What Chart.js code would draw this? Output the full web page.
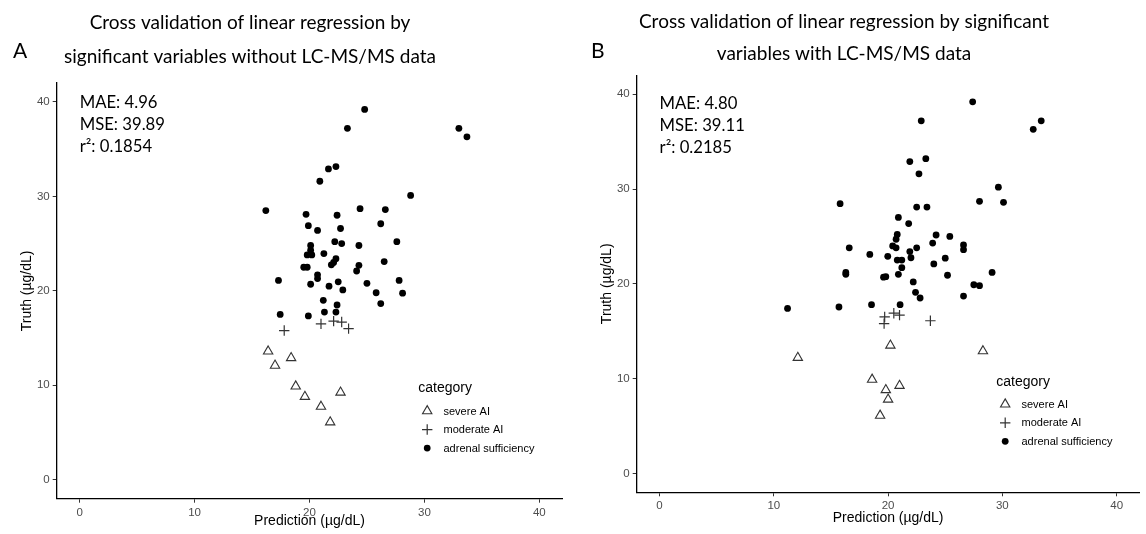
<!DOCTYPE html>
<html>
<head>
<meta charset="utf-8">
<script src="https://cdn.jsdelivr.net/npm/chart.js@4.4.0/dist/chart.umd.min.js"></script>
<style>
  body { margin: 0; background: #fff; width: 1146px; height: 534px; overflow: hidden; position: relative; }
  .panel { position: absolute; top: 0; width: 573px; height: 534px; }
</style>
</head>
<body>
<div class="panel" style="left:0"><canvas id="chartA" width="573" height="534"></canvas></div>
<div class="panel" style="left:573px"><canvas id="chartB" width="573" height="534"></canvas></div>
<script>
// categories and ticks
const categories = ['severe AI', 'moderate AI', 'adrenal sufficiency'];
const xTicks = [0, 10, 20, 30, 40];
const yTicks = [0, 10, 20, 30, 40];

// Panel A: prediction (x) vs truth (y), without LC-MS/MS
const severeA = [[16.4, 13.6], [17.0, 12.1], [18.4, 12.9], [18.8, 9.9], [19.6, 8.8], [21.0, 7.75], [22.7, 9.25], [21.8, 6.1]];
const moderateA = [[17.8, 15.8], [21.0, 16.5], [22.1, 16.8], [22.8, 16.7], [23.4, 16.0]];
const adrenalA = [
    [24.8, 39.2], [23.3, 37.2], [33.0, 37.2], [33.7, 36.3], [21.65, 32.9], [22.3, 33.15], [20.9, 31.6],
    [16.2, 28.5], [19.7, 28.1], [22.4, 28.0], [24.4, 28.7], [26.6, 28.6], [28.8, 30.1],
    [19.9, 26.9], [20.7, 26.4], [22.7, 26.6], [26.2, 27.1],
    [22.2, 25.2], [22.8, 25.0], [24.3, 24.8], [27.6, 25.2], [20.1, 24.8], [20.1, 24.3],
    [19.8, 23.8], [20.2, 23.8], [21.25, 23.95], [22.3, 23.4], [22.1, 23.0], [21.9, 22.75], [24.3, 22.7], [24.1, 22.1], [26.5, 23.1],
    [19.5, 22.5], [19.8, 22.5], [20.7, 21.7], [20.7, 21.3], [17.3, 21.1], [20.1, 20.7], [21.7, 20.5], [22.5, 20.95], [22.9, 20.1],
    [25.0, 20.8], [25.8, 19.8], [27.8, 21.1], [28.1, 19.75], [26.2, 18.65], [21.2, 19.0], [22.4, 18.5], [22.3, 17.75],
    [21.3, 17.75], [19.9, 17.35], [17.45, 17.5]
];
const metricsA = ['MAE: 4.96', 'MSE: 39.89', 'r\u00b2: 0.1854'];

// Panel B: with LC-MS/MS
const severeB = [[12.1, 12.2], [20.2, 13.5], [28.3, 12.9], [18.6, 9.9], [21.0, 9.25], [19.8, 8.8], [20.0, 7.8], [19.3, 6.1]];
const moderateB = [[19.7, 16.5], [19.65, 15.8], [20.5, 16.9], [21.0, 16.7], [23.7, 16.1]];
const adrenalB = [
    [27.4, 39.2], [22.9, 37.2], [33.4, 37.2], [32.7, 36.3], [21.9, 32.9], [23.3, 33.2], [22.7, 31.6], [29.65, 30.2],
    [15.8, 28.45], [22.5, 28.1], [23.4, 28.1], [28.0, 28.7], [30.1, 28.6], [20.9, 27.0], [21.8, 26.35],
    [24.2, 25.15], [23.9, 24.3], [20.8, 25.2], [20.7, 24.7], [25.4, 25.0], [26.6, 24.1], [26.6, 23.6],
    [16.6, 23.8], [18.4, 23.1], [19.97, 22.9], [20.4, 24.0], [20.7, 23.8], [21.9, 23.4], [22.5, 23.8], [22.0, 22.75],
    [20.8, 22.5], [21.2, 22.5], [25.0, 22.7], [24.0, 22.1], [21.2, 21.7], [20.9, 21.0], [16.3, 21.2], [16.3, 21.0],
    [19.6, 20.7], [19.8, 20.75], [25.2, 20.9], [29.1, 21.2], [22.2, 20.2], [22.4, 19.1], [22.8, 18.5],
    [26.6, 18.7], [27.5, 19.9], [28.0, 19.8],
    [11.2, 17.4], [15.7, 17.55], [18.55, 17.8], [21.05, 17.8]
];
const metricsB = ['MAE: 4.80', 'MSE: 39.11', 'r\u00b2: 0.2185'];

const toPoints = arr => arr.map(([x, y]) => ({ x, y }));

// Overlay texts: panel letter, two-line title, metrics block
const panelText = {
    id: 'panelText',
    afterDraw(chart, args, o) {
        const ctx = chart.ctx;
        ctx.save();
        ctx.fillStyle = '#000';
        ctx.textBaseline = 'alphabetic';
        ctx.font = '21px Lato';
        ctx.textAlign = 'left';
        ctx.fillText(o.letter, o.letterPos[0], o.letterPos[1]);
        ctx.font = '19px Lato';
        ctx.textAlign = 'center';
        o.title.forEach((t, i) => ctx.fillText(t, o.titleX, o.titleY[i]));
        const x = chart.scales.x.getPixelForValue(o.anchor[0]);
        const y = chart.scales.y.getPixelForValue(o.anchor[1]);
        ctx.font = '16.7px Lato';
        ctx.textAlign = 'left';
        o.metrics.forEach((t, i) => ctx.fillText(t, x, y + 6.4 + i * 22));
        ctx.restore();
    }
};

// ggplot-style legend inside the panel
const panelLegend = {
    id: 'panelLegend',
    afterDraw(chart, args, o) {
        const { ctx, chartArea: a } = chart;
        const left = a.left + (a.right - a.left) * o.fx;
        const top = a.top + (a.bottom - a.top) * o.fy;
        ctx.save();
        ctx.textAlign = 'left';
        ctx.textBaseline = 'middle';
        ctx.fillStyle = '#000';
        ctx.font = '14px "Liberation Sans"';
        ctx.fillText('category', left, top);
        chart.data.datasets.forEach((ds, i) => {
            const y = top + 22.5 + i * 18.5;
            ctx.fillStyle = ds.backgroundColor;
            ctx.strokeStyle = ds.borderColor;
            ctx.lineWidth = ds.borderWidth;
            Chart.helpers.drawPoint(ctx, {
                pointStyle: ds.pointStyle, radius: ds.pointRadius,
                borderWidth: ds.borderWidth, rotation: 0
            }, left + 9, y);
            ctx.fillStyle = '#000';
            ctx.font = '11px "Liberation Sans"';
            ctx.fillText(ds.label, left + 25.3, y + 0.5);
        });
        ctx.restore();
    }
};

function axis(title, ticksArr, fit) {
    return {
        type: 'linear', min: -2, max: 42,
        afterBuildTicks: s => { s.ticks = ticksArr.map(v => ({ value: v })); },
        afterFit: fit,
        border: { display: true, color: '#000', width: 1.3 },
        grid: { display: true, drawOnChartArea: false, drawTicks: true, tickLength: 4, color: '#333', tickWidth: 1 },
        ticks: { color: '#4d4d4d', font: { family: 'Liberation Sans', size: 11.5 }, padding: 3 },
        title: { display: true, text: title, color: '#000', font: { family: 'Liberation Sans', size: 14 }, padding: { top: 4, bottom: 4 } }
    };
}

function makeChart(id, severe, moderate, adrenal, p) {
    return new Chart(document.getElementById(id), {
        type: 'scatter',
        data: {
            datasets: [
                { label: categories[0], data: toPoints(severe), pointStyle: 'triangle', pointRadius: 5.4,
                  backgroundColor: 'rgba(0,0,0,0)', borderColor: '#333', borderWidth: 1.1 },
                { label: categories[1], data: toPoints(moderate), pointStyle: 'cross', pointRadius: 5.2,
                  backgroundColor: '#333', borderColor: '#333', borderWidth: 1.2 },
                { label: categories[2], data: toPoints(adrenal), pointStyle: 'circle', pointRadius: 3.4,
                  backgroundColor: '#000', borderColor: '#000', borderWidth: 0 }
            ]
        },
        options: {
            responsive: false,
            animation: false,
            layout: { padding: p.padding },
            scales: {
                x: axis('Prediction (\u00b5g/dL)', xTicks, s => { s.height = p.xHeight; }),
                y: axis('Truth (\u00b5g/dL)', yTicks, s => { s.width = p.yWidth; })
            },
            plugins: {
                legend: { display: false },
                tooltip: { enabled: false },
                panelText: p.text,
                panelLegend: { fx: 0.715, fy: 0.735 }
            }
        },
        plugins: [panelText, panelLegend]
    });
}

makeChart('chartA', severeA, moderateA, adrenalA, {
    padding: { left: 14.6, right: 10.7, top: 83, bottom: 0 },
    yWidth: 42.1, xHeight: 35.3,
    text: {
        letter: 'A', letterPos: [13, 58.3],
        title: ['Cross validation of linear regression by', 'significant variables without LC-MS/MS data'],
        titleX: 250, titleY: [29.3, 63.3],
        metrics: metricsA, anchor: [0, 40]
    }
});

makeChart('chartB', severeB, moderateB, adrenalB, {
    padding: { left: 21.6, right: 3.7, top: 75.3, bottom: 3 },
    yWidth: 42.1, xHeight: 38.7,
    text: {
        letter: 'B', letterPos: [18, 57.5],
        title: ['Cross validation of linear regression by significant', 'variables with LC-MS/MS data'],
        titleX: 271, titleY: [28.3, 60],
        metrics: metricsB, anchor: [0, 39.1]
    }
});
</script>
</body>
</html>
